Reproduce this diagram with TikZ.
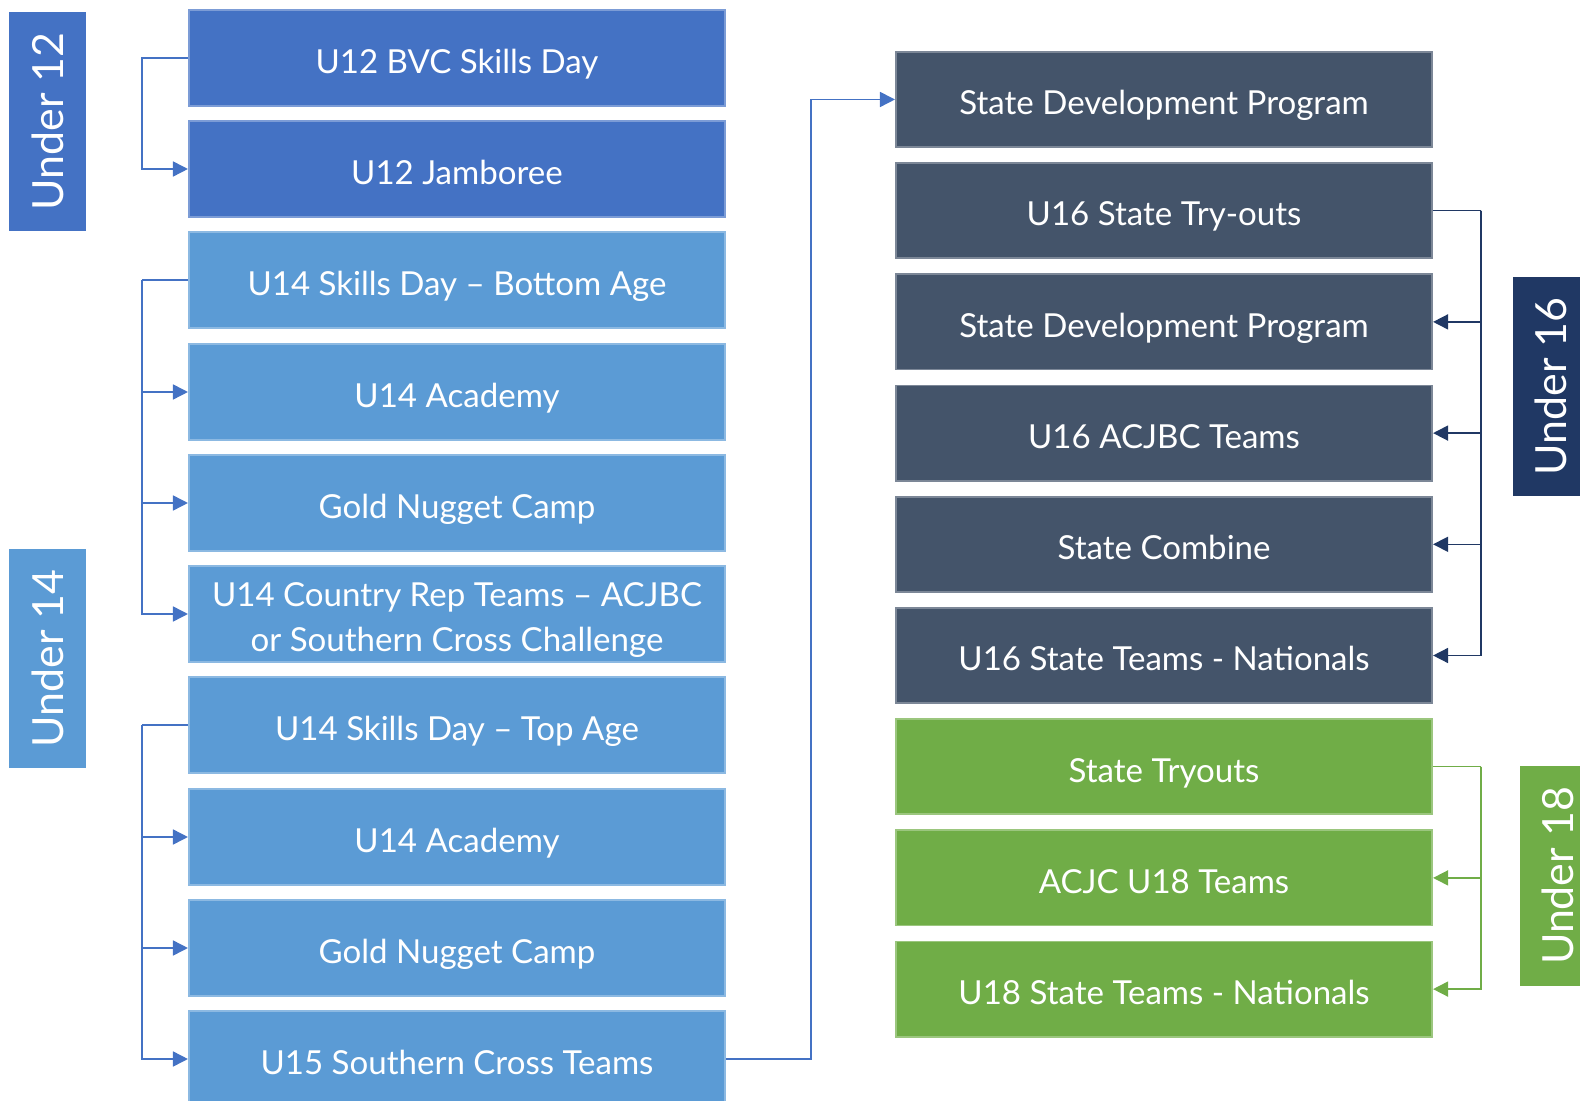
\documentclass[tikz,border=0pt]{standalone}
\usepackage{fontspec}
\setmainfont{Lato}
\usetikzlibrary{arrows.meta}

\definecolor{utwelve}{HTML}{4472C4}
\definecolor{ufourteen}{HTML}{5B9BD5}
\definecolor{usixteen}{HTML}{44546A}
\definecolor{usixteenlabel}{HTML}{203864}
\definecolor{ueighteen}{HTML}{70AD47}

\begin{document}
\begin{tikzpicture}[x=0.01cm, y=-0.01cm,
  box/.style={minimum width=5.36cm, minimum height=0.96cm, inner sep=0pt,
    text=white, align=center, line width=0.5pt,
    text height=8.7pt, text depth=0pt,
    font=\fontsize{9.4}{12.8}\selectfont},
  rbox/.style={box, minimum height=0.95cm},
  agelabel/.style={rotate=90, minimum width=2.19cm, minimum height=0.77cm,
    inner sep=0pt, text=white, font=\fontsize{12.2}{14}\selectfont},
  link/.style={line width=0.45pt, -{Triangle[length=0.15cm, width=0.15cm]}}]

  \useasboundingbox (0,0) rectangle (1580,1101);

  % age labels
  \node (u12)  at (47.5, 121.5) [agelabel, fill=utwelve] {Under 12};
  \node (u14)  at (47.5, 658.5) [agelabel, fill=ufourteen] {Under 14};
  \node (u16)  at (1551, 386.5) [agelabel, fill=usixteenlabel] {Under 16};
  \node (u18)  at (1558, 876)   [agelabel, fill=ueighteen] {Under 18};

  % left column
  \node (b1)  at (457,   58) [box, fill=utwelve, draw=utwelve!70!white] {U12 BVC Skills Day};
  \node (b2)  at (457,  169) [box, fill=utwelve, draw=utwelve!70!white] {U12 Jamboree};
  \node (b3)  at (457,  280) [box, fill=ufourteen, draw=ufourteen!70!white] {U14 Skills Day – Bottom Age};
  \node (b4)  at (457,  392) [box, fill=ufourteen, draw=ufourteen!70!white] {U14 Academy};
  \node (b5)  at (457,  503) [box, fill=ufourteen, draw=ufourteen!70!white] {Gold Nugget Camp};
  \node (b6)  at (457,  614) [box, fill=ufourteen, draw=ufourteen!70!white, text height=21.5pt] {U14 Country Rep Teams – ACJBC\\or Southern Cross Challenge};
  \node (b7)  at (457,  725) [box, fill=ufourteen, draw=ufourteen!70!white] {U14 Skills Day – Top Age};
  \node (b8)  at (457,  837) [box, fill=ufourteen, draw=ufourteen!70!white] {U14 Academy};
  \node (b9)  at (457,  948) [box, fill=ufourteen, draw=ufourteen!70!white] {Gold Nugget Camp};
  \node (b10) at (457, 1059) [box, fill=ufourteen, draw=ufourteen!70!white] {U15 Southern Cross Teams};

  % right column
  \node (r1) at (1164,  99.5) [rbox, fill=usixteen, draw=usixteen!70!white] {State Development Program};
  \node (r2) at (1164, 210.7) [rbox, fill=usixteen, draw=usixteen!70!white] {U16 State Try-outs};
  \node (r3) at (1164, 321.9) [rbox, fill=usixteen, draw=usixteen!70!white] {State Development Program};
  \node (r4) at (1164, 433.1) [rbox, fill=usixteen, draw=usixteen!70!white] {U16 ACJBC Teams};
  \node (r5) at (1164, 544.3) [rbox, fill=usixteen, draw=usixteen!70!white] {State Combine};
  \node (r6) at (1164, 655.5) [rbox, fill=usixteen, draw=usixteen!70!white] {U16 State Teams - Nationals};
  \node (r7) at (1164, 766.7) [rbox, fill=ueighteen, draw=ueighteen!70!white] {State Tryouts};
  \node (r8) at (1164, 877.9) [rbox, fill=ueighteen, draw=ueighteen!70!white] {ACJC U18 Teams};
  \node (r9) at (1164, 989.1) [rbox, fill=ueighteen, draw=ueighteen!70!white] {U18 State Teams - Nationals};

  % left brackets
  \draw[link, utwelve] (b1.west) -- ++(-46,0) |- (b2.west);

  \draw[utwelve, line width=0.45pt] (b3.west) -- ++(-46,0) coordinate (j1);
  \foreach \n in {4,5,6}
    \draw[link, utwelve] (j1) |- (b\n.west);

  \draw[utwelve, line width=0.45pt] (b7.west) -- ++(-46,0) coordinate (j2);
  \foreach \n in {8,9,10}
    \draw[link, utwelve] (j2) |- (b\n.west);

  % across to the state programs
  \draw[link, utwelve] (b10.east) -- ++(85,0) |- (r1.west);

  % right brackets
  \draw[usixteenlabel, line width=0.45pt] (r2.east) -- ++(48,0) coordinate (k1);
  \foreach \n in {3,4,5,6}
    \draw[link, usixteenlabel] (k1) |- (r\n.east);

  \draw[ueighteen, line width=0.45pt] (r7.east) -- ++(48,0) coordinate (k2);
  \foreach \n in {8,9}
    \draw[link, ueighteen] (k2) |- (r\n.east);
\end{tikzpicture}
\end{document}
